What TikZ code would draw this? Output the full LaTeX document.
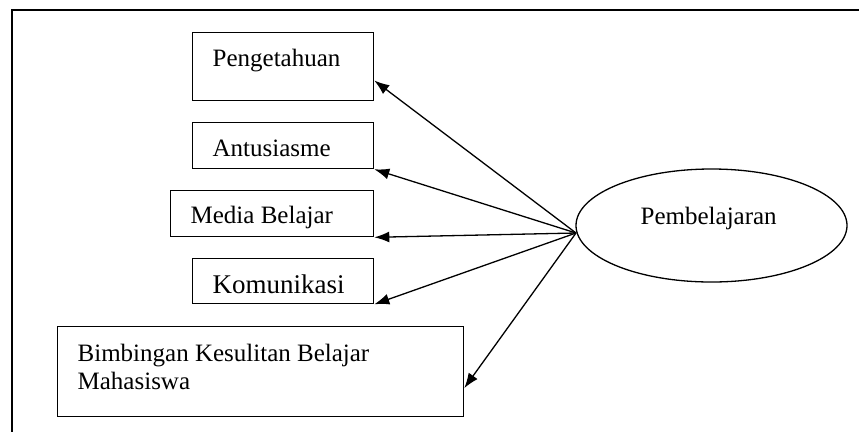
\documentclass[tikz,border=0pt]{standalone}
\usepackage{fontspec}
\setmainfont{Liberation Serif}
\usetikzlibrary{arrows.meta}
\usetikzlibrary{calc}
\usetikzlibrary{shapes.geometric}

\tikzset{box/.style={draw, rectangle, inner sep=0pt, anchor=north west},
  lbl/.style={inner sep=0pt, anchor=base west, font=\fontsize{25}{28}\selectfont}}

\begin{document}
\begin{tikzpicture}[x=1pt, y=-1pt, line width=1.3pt,
    >={Latex[length=15pt,width=11pt]}]
  \useasboundingbox (0,0) rectangle (859,432);
  \draw (859,10) -- (12,10) -- (12,432);

  \node[box, minimum width=181pt, minimum height=68pt] (peng) at (192,32) {};
  \node[box, minimum width=181pt, minimum height=46pt] (antu) at (192,122) {};
  \node[box, minimum width=203pt, minimum height=46pt] (media) at (170,190) {};
  \node[box, minimum width=181pt, minimum height=45pt] (komu) at (192,258) {};
  \node[box, minimum width=406pt, minimum height=90pt] (bimb) at (57,326) {};
  \node[draw, ellipse, inner sep=0pt, minimum width=271pt, minimum height=113pt]
    (pemb) at (711.5,225.5) {};

  \node[lbl] (pengT) at (212,66) {Pengetahuan};
  \node[lbl] (antuT) at (212,156) {Antusiasme};
  \node[lbl] (mediaT) at (190,223) {Media Belajar};
  \node[lbl, font=\fontsize{27}{30}\selectfont] (komuT) at (212,293) {Komunikasi};
  \node[lbl, anchor=north west, align=left] (bimbT) at (77,343)
    {Bimbingan Kesulitan Belajar\\Mahasiswa};
  \node[lbl] (pembT) at (640,224) {Pembelajaran};

  \coordinate (hub) at (576,233);
  \path[->] (hub) edge ($(peng.north east)!0.7!(peng.south east)$);
  \path[->] (hub) edge (antu.south east);
  \path[->] (hub) edge (media.south east);
  \path[->] (hub) edge (komu.south east);
  \path[->] (hub) edge ($(bimb.north east)!0.68!(bimb.south east)$);
\end{tikzpicture}
\end{document}
